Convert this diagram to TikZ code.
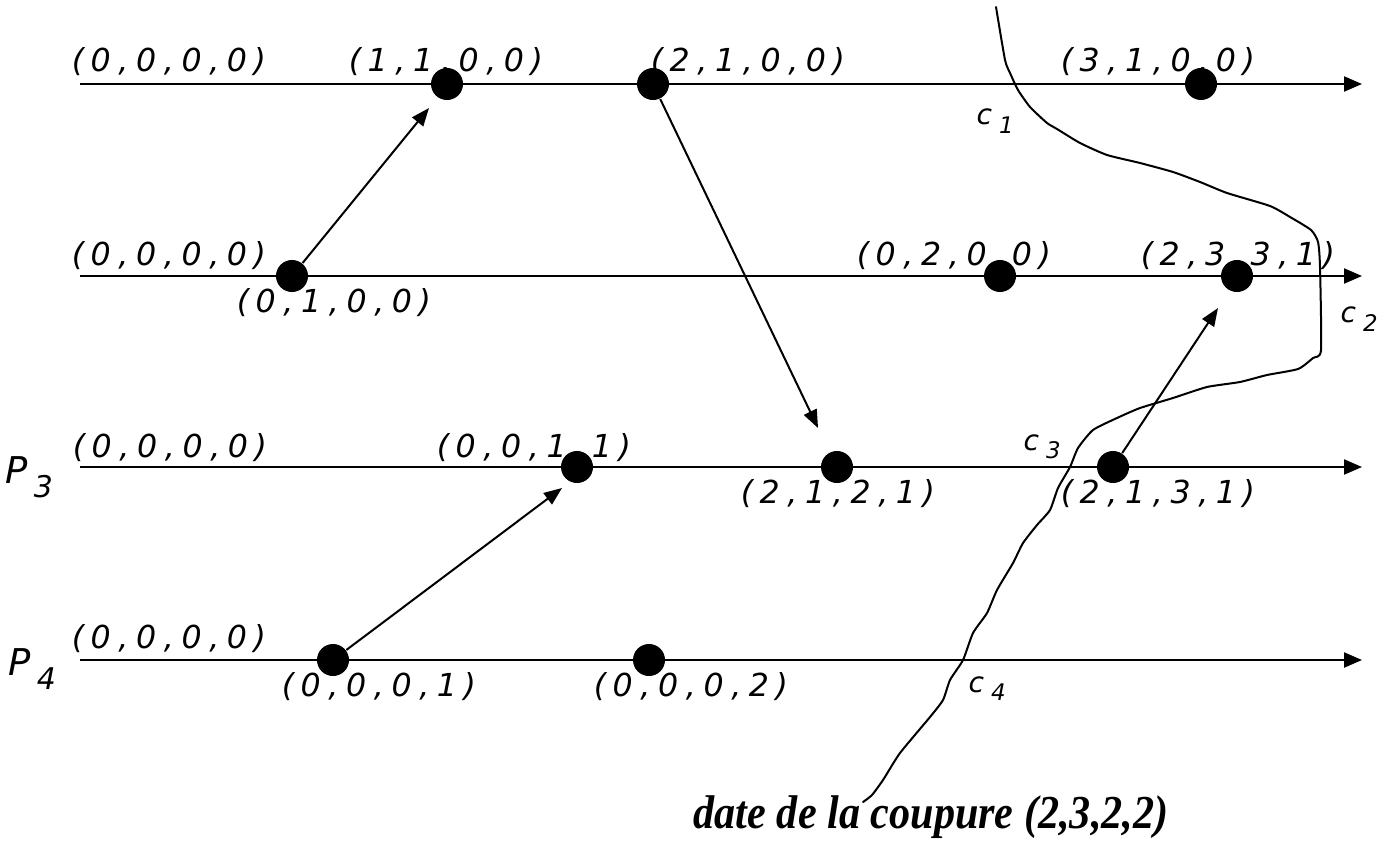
\documentclass[tikz,border=0pt]{standalone}
\usepackage{fontspec}
\usetikzlibrary{arrows.meta}
\newfontfamily\labfont{DejaVu Sans}
\newfontfamily\capfont{Liberation Serif}
\ExplSyntaxOn
\NewDocumentCommand\vt{m}{\tl_map_inline:nn{#1}{\makebox[0.227cm]{##1}}}
\ExplSyntaxOff
\newcommand\subc[1]{\kern0.07cm\lower0.085cm\hbox{\fontsize{6.5}{6.5}\selectfont #1}}
\newcommand\subp[1]{\kern0.06cm\lower0.14cm\hbox{\fontsize{8.5}{8.5}\selectfont #1}}
\begin{document}
\begin{tikzpicture}[x=0.01cm,y=-0.01cm,
  proc/.style={line width=0.022cm,-{Triangle[length=0.18cm,width=0.15cm]}},
  msg/.style={line width=0.02cm,-{Triangle[length=0.18cm,width=0.14cm]}},
  ev/.style={circle,fill=black,minimum size=0.32cm,inner sep=0pt},
  lab/.style={inner sep=0pt,anchor=base west,font=\labfont\itshape\fontsize{9}{10}\selectfont},
  clab/.style={inner sep=0pt,anchor=base west,font=\labfont\itshape\fontsize{8}{8}\selectfont},
  plab/.style={inner sep=0pt,anchor=base west,font=\labfont\itshape\fontsize{10.5}{12}\selectfont},
  cut/.style={line width=0.02cm,line join=round,line cap=round}]
\useasboundingbox (0,0) rectangle (1389,846);

% labels
\node[lab] (l11) at (66,72) {\vt{(0,0,0,0)}};
\node[lab] (l12) at (343,72) {\vt{(1,1,0,0)}};
\node[lab] (l13) at (645,72) {\vt{(2,1,0,0)}};
\node[lab] (l14) at (1055,72) {\vt{(3,1,0,0)}};
\node[lab] (l21) at (66,265) {\vt{(0,0,0,0)}};
\node[lab] (l22) at (231,313) {\vt{(0,1,0,0)}};
\node[lab] (l23) at (851,265) {\vt{(0,2,0,0)}};
\node[lab] (l24) at (1135,265) {\vt{(2,3,3,1)}};
\node[lab] (l31) at (67,457) {\vt{(0,0,0,0)}};
\node[lab] (l32) at (431,457) {\vt{(0,0,1,1)}};
\node[lab] (l33) at (735,503) {\vt{(2,1,2,1)}};
\node[lab] (l34) at (1055,503) {\vt{(2,1,3,1)}};
\node[lab] (l41) at (66,648) {\vt{(0,0,0,0)}};
\node[lab] (l42) at (276,696) {\vt{(0,0,0,1)}};
\node[lab] (l43) at (588,696) {\vt{(0,0,0,2)}};

\node[plab] (p3) at (5,483) {P\subp{3}};
\node[plab] (p4) at (8,675) {P\subp{4}};

\node[clab] (c1) at (976,125) {c\subc{1}};
\node[clab] (c2) at (1340,323) {c\subc{2}};
\node[clab] (c3) at (1023,450) {c\subc{3}};
\node[clab] (c4) at (968,692) {c\subc{4}};

% process lines
\coordinate (s1) at (80,84);  \coordinate (t1) at (1362,84);
\coordinate (s2) at (80,276); \coordinate (t2) at (1362,276);
\coordinate (s3) at (80,467); \coordinate (t3) at (1362,467);
\coordinate (s4) at (80,660); \coordinate (t4) at (1362,660);
\draw[proc] (s1) -- (t1);
\draw[proc] (s2) -- (t2);
\draw[proc] (s3) -- (t3);
\draw[proc] (s4) -- (t4);

% cut
\draw[cut] plot[smooth,tension=0.35] coordinates {
 (996,7) (1005,60) (1010,73) (1018,90) (1030,107) (1047,123) (1057,129)
 (1080,143) (1107,155) (1140,163) (1173,172) (1200,182) (1227,193)
 (1270,206) (1290,217) (1311,230) (1318,242) (1320,267) (1321,350)
 (1313,358) (1298,369) (1267,375) (1240,382) (1207,387) (1173,398)
 (1140,408) (1117,418) (1093,430) (1078,448) (1070,467) (1058,488)
 (1050,510) (1037,525) (1023,543) (1013,563) (997,590) (987,613)
 (973,633) (963,660) (950,680) (943,700) (930,717) (900,753)
 (883,780) (872,795) (863,802)};

% events
\node[ev] (e11) at (447,84) {};
\node[ev] (e12) at (653,84) {};
\node[ev] (e13) at (1201,84) {};
\node[ev] (e21) at (292,276) {};
\node[ev] (e22) at (1000,276) {};
\node[ev] (e23) at (1237,276) {};
\node[ev] (e31) at (577,467) {};
\node[ev] (e32) at (837,467) {};
\node[ev] (e33) at (1113,467) {};
\node[ev] (e41) at (333,660) {};
\node[ev] (e42) at (649,660) {};

% messages
\draw[msg] (e21) -- ([shift={(-18,24)}]e11.center);
\draw[msg] (e12) -- ([shift={(-19,-39)}]e32.center);
\draw[msg] (e41) -- ([shift={(-15,21)}]e31.center);
\draw[msg] (e33) -- ([shift={(-19,32)}]e23.center);

% caption
\node[inner sep=0pt,anchor=base west,font=\capfont\bfseries\itshape\fontsize{12}{14}\selectfont] (cap) at (693,828) {\scalebox{1}[1.12]{date de la coupure (2,3,2,2)}};
\end{tikzpicture}
\end{document}
